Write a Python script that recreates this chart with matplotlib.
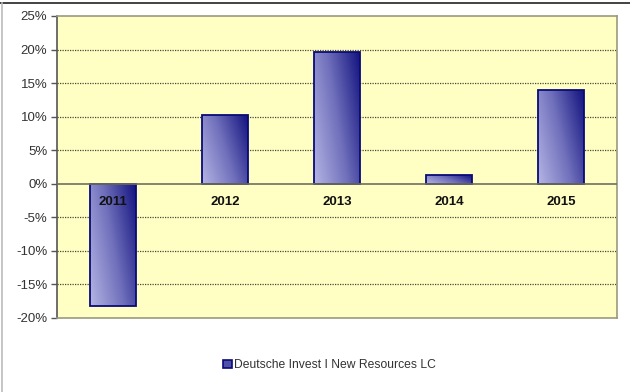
import numpy as np
import matplotlib.pyplot as plt
from matplotlib.colors import LinearSegmentedColormap
from matplotlib.patches import Rectangle
from matplotlib.lines import Line2D

plt.rcParams['font.family'] = ['Liberation Sans', 'DejaVu Sans']

# yearly returns in percent
years = ['2011', '2012', '2013', '2014', '2015']
returns = [-18.2, 10.2, 19.7, 1.3, 14.0]
fund_name = 'Deutsche Invest I New Resources LC'

yticks = [-20, -15, -10, -5, 0, 5, 10, 15, 20, 25]

fig = plt.figure(figsize=(6.3, 3.92), dpi=100)
fig.patch.set_facecolor('white')
ax = fig.add_axes([57 / 630, 74 / 392, 560 / 630, 302 / 392])
ax.set_facecolor('#ffffc4')

x = np.arange(len(years))
bar_w = 0.41
bars = ax.bar(x, returns, width=bar_w, color='none', edgecolor='#0a0a78',
              linewidth=1.3, zorder=3)

# diagonal shade: light lower-left to dark navy upper-right
shade = LinearSegmentedColormap.from_list('shade', ['#b4b4e4', '#7070bc', '#141480'])
gx, gy = np.meshgrid(np.linspace(0, 1, 60), np.linspace(0, 1, 60))
grad = 0.68 * gx + 0.32 * gy
for b in bars:
    x0, y0 = b.get_x(), b.get_y()
    w, h = b.get_width(), b.get_height()
    lo, hi = min(y0, y0 + h), max(y0, y0 + h)
    im = ax.imshow(grad, cmap=shade, origin='lower', aspect='auto',
                   extent=[x0, x0 + w, lo, hi], zorder=2, interpolation='bilinear')
    im.set_clip_path(Rectangle((x0, y0), w, h, transform=ax.transData))

ax.set_xlim(-0.5, len(years) - 0.5)
ax.set_ylim(-20, 25)
ax.set_yticks(yticks)
ax.set_yticklabels([f'{v}%' for v in yticks], fontsize=9.5, color='#333333')
ax.tick_params(axis='y', length=4, width=1, color='#555555', pad=3)
ax.set_xticks([])

for v in [-15, -10, -5, 5, 10, 15, 20]:
    ax.axhline(v, color='#4a4a36', linestyle=(0, (1, 1)), linewidth=0.9, zorder=1)
ax.axhline(0, color='#707060', linewidth=1.2, zorder=4)

for xi, yr in zip(x, years):
    ax.annotate(yr, (xi, 0), xytext=(0, -9), textcoords='offset points',
                ha='center', va='top', fontsize=9.5, fontweight='bold',
                color='#111111', zorder=5)

for side in ['top', 'right', 'bottom']:
    ax.spines[side].set_color('#9a9a80')
    ax.spines[side].set_linewidth(1.2)
ax.spines['left'].set_color('#555555')
ax.spines['left'].set_linewidth(1.2)

handle = Rectangle((0, 0), 1, 1, facecolor='#5050a8', edgecolor='#0a0a78', linewidth=1.2)
fig.legend([handle], [fund_name], loc='center', bbox_to_anchor=(0.523, 27 / 392),
           frameon=False, fontsize=8.7, handlelength=0.7, handleheight=0.7,
           handletextpad=0.2, labelcolor='#333333')

# outer frame
fig.add_artist(Line2D([0, 1], [1 - 3 / 392] * 2, transform=fig.transFigure,
                      color='#222222', linewidth=1.2))
fig.add_artist(Line2D([1.5 / 630] * 2, [0, 1 - 3 / 392], transform=fig.transFigure,
                      color='#bbbbbb', linewidth=1.2))

fig.savefig('out.png', dpi=100)
